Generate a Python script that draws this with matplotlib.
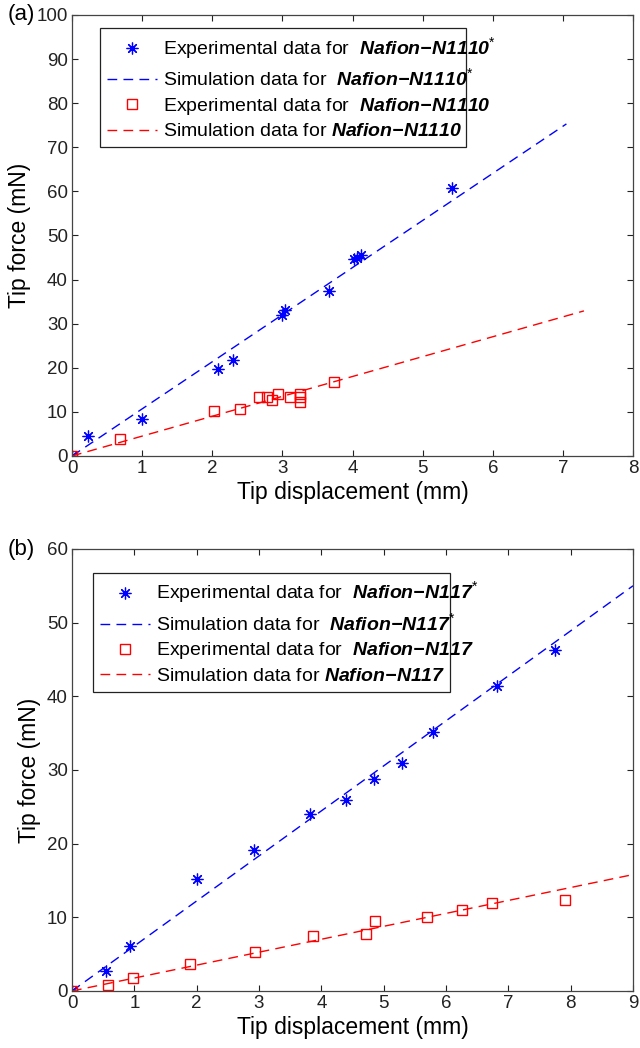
import numpy as np
import matplotlib
matplotlib.use('Agg')
import matplotlib.pyplot as plt

plt.rcParams['font.family'] = ['Liberation Sans', 'DejaVu Sans']
plt.rcParams['mathtext.fontset'] = 'custom'
plt.rcParams['mathtext.rm'] = 'Liberation Sans'
plt.rcParams['mathtext.bf'] = 'Liberation Sans:bold:italic'

# (a) Nafion-N1110
exp_a_star_x = [0, 0.23, 1.0, 2.08, 2.29, 3.0, 3.04, 3.67, 4.02, 4.07, 4.12, 5.42]
exp_a_star_y = [0, 4.5, 8.4, 19.8, 21.8, 32.0, 33.0, 37.5, 44.7, 45.0, 45.5, 60.8]
sim_a_star_x = [0, 7.05]
sim_a_star_y = [0, 75.3]
exp_a_x = [0, 0.68, 2.03, 2.40, 2.66, 2.78, 2.85, 2.94, 3.11, 3.25, 3.25, 3.25, 3.73]
exp_a_y = [0, 3.9, 10.1, 10.7, 13.3, 13.3, 12.8, 14.1, 13.3, 14.1, 13.3, 12.2, 16.7]
sim_a_x = [0, 7.3]
sim_a_y = [0, 32.9]

# (b) Nafion-N117
exp_b_star_x = [0, 0.55, 0.93, 2.0, 2.92, 3.81, 4.39, 4.85, 5.29, 5.79, 6.82, 7.75]
exp_b_star_y = [0, 2.7, 6.1, 15.2, 19.2, 24.0, 25.9, 28.8, 30.9, 35.2, 41.4, 46.3]
sim_b_star_x = [0, 9.0]
sim_b_star_y = [0, 55.0]
exp_b_x = [0, 0.58, 0.98, 1.89, 2.93, 3.87, 4.71, 4.86, 5.70, 6.25, 6.73, 7.91]
exp_b_y = [0, 0.8, 1.8, 3.7, 5.3, 7.5, 7.7, 9.5, 10.1, 11.0, 12.0, 12.3]
sim_b_x = [0, 9.0]
sim_b_y = [0, 15.8]

fig = plt.figure(figsize=(6.4, 10.48), dpi=100)
ax1 = fig.add_axes([0.1125, 0.5649, 0.8766, 0.4208])
ax2 = fig.add_axes([0.1125, 0.0544, 0.8766, 0.4218])

star = (8, 2, 0)
dash = (0, (7, 4.5))


def draw(ax, sx, sy, lx, ly, qx, qy, mx, my, name, xmax, ymax, legbox):
    ax.plot(sx, sy, linestyle='none', marker=star, color='#0000ff', markersize=8.5,
            markeredgewidth=0.9,
            label=r'Experimental data for  $\mathbf{' + name + r'}^{*}$')
    ax.plot(lx, ly, color='#0000ff', linestyle=dash, linewidth=1.0,
            label=r'Simulation data for  $\mathbf{' + name + r'}^{*}$')
    ax.plot(qx, qy, linestyle='none', marker='s', color='#ff0000', markersize=7,
            markerfacecolor='none', markeredgewidth=1.0,
            label=r'Experimental data for  $\mathbf{' + name + r'}$')
    ax.plot(mx, my, color='#ff0000', linestyle=dash, linewidth=1.0,
            label=r'Simulation data for $\mathbf{' + name + r'}$')
    ax.set_xlim(0, xmax)
    ax.set_ylim(0, ymax)
    ax.set_xticks(range(0, xmax + 1))
    ax.set_xlabel('Tip displacement (mm)', fontsize=16.5, labelpad=3)
    ax.set_ylabel('Tip force (mN)', fontsize=16.5, labelpad=4)
    ax.tick_params(direction='in', top=True, right=True, length=4, width=0.8,
                   labelsize=13.5, colors='#222222', pad=3)
    for sp in ax.spines.values():
        sp.set_color('#444444')
        sp.set_linewidth(0.9)
    leg = ax.legend(loc='upper left', bbox_to_anchor=legbox, mode='expand',
                    fontsize=14, handlelength=2.6, handletextpad=0.3,
                    borderpad=0.35, labelspacing=0.3, fancybox=False,
                    framealpha=1, edgecolor='#222222', borderaxespad=0)
    leg.get_frame().set_linewidth(0.9)


draw(ax1, exp_a_star_x, exp_a_star_y, sim_a_star_x, sim_a_star_y,
     exp_a_x, exp_a_y, sim_a_x, sim_a_y, r'Nafion{-}N1110', 8, 100,
     (0.05, 0.97, 0.652, 0.0))
ax1.set_yticks(range(0, 101, 10))
draw(ax2, exp_b_star_x, exp_b_star_y, sim_b_star_x, sim_b_star_y,
     exp_b_x, exp_b_y, sim_b_x, sim_b_y, r'Nafion{-}N117', 9, 60,
     (0.037, 0.946, 0.637, 0.0))
ax2.set_yticks(range(0, 61, 10))

fig.text(0.012, 0.9857, '(a)', fontsize=16, va='center', ha='left')
fig.text(0.012, 1 - 549 / 1048, '(b)', fontsize=16, va='center', ha='left')

fig.savefig('out.png', dpi=100)
